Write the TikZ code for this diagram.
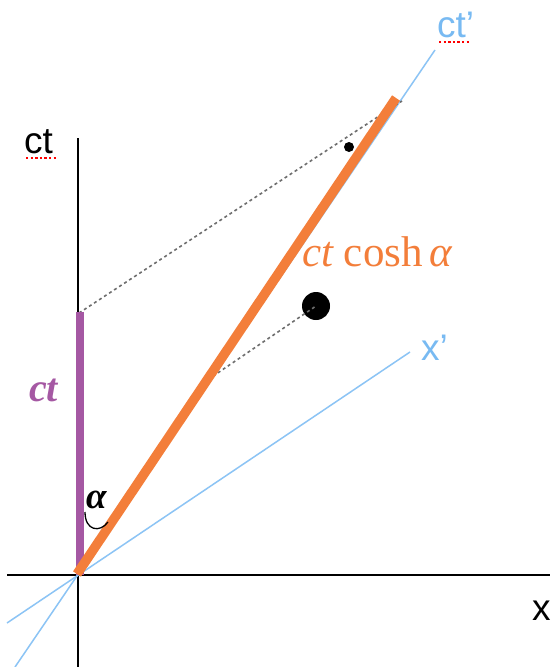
\documentclass[tikz,border=0pt]{standalone}
\usepackage{fontspec}
\newfontfamily\lsans{Liberation Sans}
\newfontfamily\lserif{Liberation Serif}
\definecolor{orng}{RGB}{243,126,58}
\definecolor{purp}{RGB}{165,88,163}
\definecolor{lblue}{RGB}{140,196,245}
\definecolor{lbtext}{RGB}{120,186,242}
\definecolor{dgray}{RGB}{110,110,110}
\begin{document}
\begin{tikzpicture}[x=1pt,y=-1pt,
  axisline/.style={line width=1.6pt,black},
  primeline/.style={line width=1.5pt,lblue},
  guide/.style={line width=1.6pt,dgray,dash pattern=on 3pt off 3pt},
  lbl/.style={inner sep=0pt,anchor=base west},
  sanslbl/.style={lbl,font=\lsans\fontsize{37}{37}\selectfont},
  spell/.style={red,line width=2.4pt,dash pattern=on 2.4pt off 2.2pt}]
\useasboundingbox (0,0) rectangle (556,667);
\fill[white] (0,0) rectangle (556,667);
% coordinates
\coordinate (O) at (78,575);
\coordinate (ytop) at (78,138);
\coordinate (ybot) at (78,667);
\coordinate (xl) at (7,575);
\coordinate (xr) at (550,575);
\coordinate (ctpA) at (15,667);
\coordinate (ctpB) at (435,50);
\coordinate (xpA) at (7,623);
\coordinate (xpB) at (410,352);
\coordinate (oA) at (77,574);
\coordinate (oB) at (396,98);
\coordinate (pA) at (80,575);
\coordinate (pB) at (80,312);
\coordinate (g1A) at (79,313);
\coordinate (g1B) at (402,101);
\coordinate (g2A) at (203,383);
% axes
\draw[axisline] (ytop) -- (ybot);
\draw[axisline] (xl) -- (xr);
% primed axes
\draw[primeline] (ctpA) -- (ctpB);
\draw[primeline] (xpA) -- (xpB);
% guides
\draw[guide] (g1A) -- (g1B);
% dots
\node[circle,fill=black,minimum size=28pt,inner sep=0pt] (bigdot) at (316,306) {};
\node[circle,fill=black,minimum size=10pt,inner sep=0pt] (smalldot) at (349,147) {};
\draw[guide] (g2A) -- (bigdot.center);
% thick segments
\draw[purp,line width=8pt] (pA) -- (pB);
\draw[orng,line width=9.5pt] (oA) -- (oB);
% alpha arc
\draw[black,line width=1.3pt] (85,512) .. controls (85,531) and (100,533) .. (108,522);
% labels
\node[sanslbl] (lct) at (24,153) {ct};
\draw[spell] (26,158) -- (58,158);
\node[sanslbl,text=lbtext] (lctp) at (437,37) {ct’};
\draw[spell] (439,42) -- (471,42);
\node[sanslbl,text=lbtext] (lxp) at (421,360) {x’};
\node[sanslbl] (lx) at (532,620) {x};
\node[lbl,font=\lserif\fontsize{43}{43}\selectfont,text=orng] (lcosh) at (302,266) {\itshape ct\upshape\ cosh\,\itshape α};
\node[lbl,font=\lserif\fontsize{40}{40}\selectfont,text=purp] (lpct) at (29,401) {\bfseries\itshape ct};
\node[lbl,font=\lserif\fontsize{37}{37}\selectfont] (lalpha) at (86,508) {\bfseries\itshape α};
\end{tikzpicture}
\end{document}
